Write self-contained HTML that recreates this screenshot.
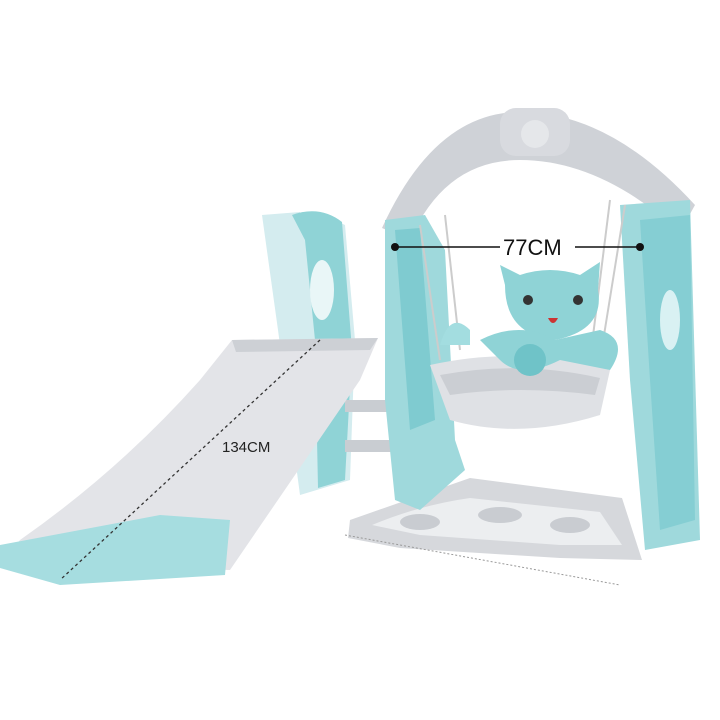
<!DOCTYPE html>
<html><head><meta charset="utf-8"><style>
html,body{margin:0;padding:0;background:#fff;width:720px;height:720px;overflow:hidden}
</style></head><body>
<svg width="720" height="720" viewBox="0 0 720 720" xmlns="http://www.w3.org/2000/svg">
<rect width="720" height="720" fill="#fff"/>
<!-- slide tower -->
<path d="M262 215 L300 212 L300 230 Q318 210 345 225 L355 340 L350 480 L300 495 L290 420 L278 330 Z" fill="#d4ecef"/>
<path d="M292 215 Q320 205 342 222 L352 350 L345 480 L318 488 L315 340 L305 240 Z" fill="#8fd3d6"/>
<ellipse cx="322" cy="290" rx="12" ry="30" fill="#e9f6f7"/>
<!-- steps -->
<rect x="345" y="400" width="60" height="12" fill="#c9cdd2"/>
<rect x="345" y="440" width="60" height="12" fill="#c9cdd2"/>
<!-- slide -->
<path d="M232 340 L378 338 L360 380 L230 570 L0 565 L20 540 Q120 470 200 380 Z" fill="#e3e4e8"/>
<path d="M232 340 L378 338 L370 350 L236 352 Z" fill="#cdd0d5"/>
<path d="M0 545 L160 515 L230 520 L225 575 L60 585 L0 568 Z" fill="#a6dde0"/>
<path d="M320 340 L60 580" stroke="#333" stroke-width="1.3" stroke-dasharray="3,3"/>
<text x="222" y="452" font-family="Liberation Sans, sans-serif" font-size="15" fill="#222">134CM</text>
<!-- base platform -->
<path d="M350 520 L470 478 L622 498 L642 560 L560 558 L400 548 L348 538 Z" fill="#d6d8dc"/>
<path d="M372 525 Q420 505 470 498 L600 512 L622 545 L560 545 L420 535 Z" fill="#eceef0"/>
<ellipse cx="420" cy="522" rx="20" ry="8" fill="#c9ccd1"/>
<ellipse cx="500" cy="515" rx="22" ry="8" fill="#c9ccd1"/>
<ellipse cx="570" cy="525" rx="20" ry="8" fill="#c9ccd1"/>
<path d="M345 535 L620 585" stroke="#999" stroke-width="1" stroke-dasharray="2,2"/>
<!-- arch -->
<path d="M382 228 Q435 112 520 112 Q610 112 695 205 L680 232 Q600 160 520 160 Q445 160 410 240 Z" fill="#cfd2d7"/>
<rect x="500" y="108" width="70" height="48" rx="16" fill="#d8dadf"/>
<circle cx="535" cy="134" r="14" fill="#e5e7ea"/>
<!-- left leg -->
<path d="M385 220 L425 215 L445 250 L455 440 L465 470 L420 510 L395 500 L385 400 Z" fill="#9fd9dc"/>
<path d="M395 230 L420 228 L435 420 L410 430 Z" fill="#7fcbd0"/>
<!-- right leg -->
<path d="M620 205 L690 200 L700 540 L645 550 L630 380 Z" fill="#9fd9dc"/>
<path d="M640 220 L690 215 L695 520 L660 530 L650 380 Z" fill="#85ced3"/>
<ellipse cx="670" cy="320" rx="10" ry="30" fill="#d9f1f3"/>
<!-- ropes -->
<path d="M420 225 L440 360 M445 215 L460 350 M610 200 L590 360 M625 205 L600 360" stroke="#ccc" stroke-width="2"/>
<!-- seat -->
<path d="M470 330 Q450 310 440 345 L470 345 Z" fill="#a3dde0"/>
<path d="M430 365 Q520 345 610 370 L600 415 Q520 440 450 420 Z" fill="#dfe1e5"/>
<path d="M440 375 Q520 360 600 378 L595 395 Q520 385 450 395 Z" fill="#cbced3"/>
<!-- cat -->
<path d="M505 285 L500 265 L520 275 Q550 265 580 275 L600 262 L598 290 Q605 330 555 340 Q505 335 505 285 Z" fill="#8fd3d6"/>
<circle cx="528" cy="300" r="5" fill="#333"/>
<circle cx="578" cy="300" r="5" fill="#333"/>
<path d="M548 318 Q553 328 558 318 Z" fill="#c33"/>
<path d="M480 340 Q520 320 555 340 L600 330 Q630 340 610 370 L560 360 Q520 380 500 360 Z" fill="#8fd3d6"/>
<circle cx="530" cy="360" r="16" fill="#6fc3c8"/>
<!-- measurement -->
<path d="M395 247 L500 247 M575 247 L640 247" stroke="#111" stroke-width="1.5"/>
<circle cx="395" cy="247" r="4" fill="#111"/>
<circle cx="640" cy="247" r="4" fill="#111"/>
<text x="503" y="255" font-family="Liberation Sans, sans-serif" font-size="22" fill="#111">77CM</text>
</svg>
</body></html>
